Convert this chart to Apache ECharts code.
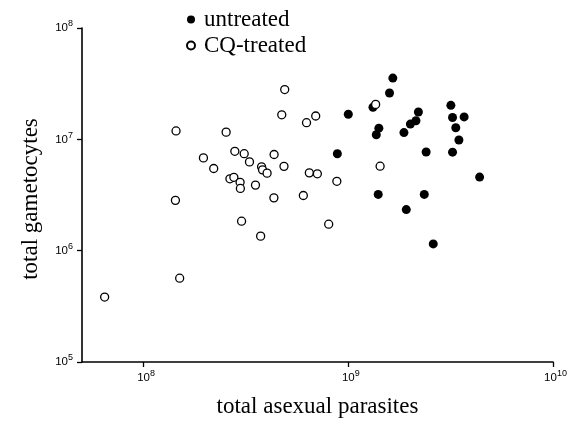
<!DOCTYPE html>
<html>
<head>
<meta charset="utf-8">
<script src="https://cdn.jsdelivr.net/npm/echarts@6/dist/echarts.min.js"></script>
<style>html,body{margin:0;padding:0;background:#fff;}#c{width:582px;height:423px;}</style>
</head>
<body>
<div id="c"></div>
<script>
// total asexual parasites (x) and total gametocytes (y)
var untreatedX = [1.65e9,1.59e9,1.32e9,1.0e9,2.2e9,2.01e9,2.14e9,1.41e9,1.37e9,1.87e9,3.17e9,3.23e9,3.68e9,3.35e9,3.47e9,8.84e8,2.4e9,3.23e9,4.38e9,1.4e9,2.35e9,1.92e9,2.6e9];
var untreatedY = [3.55e7,2.61e7,1.94e7,1.68e7,1.76e7,1.37e7,1.47e7,1.26e7,1.1e7,1.15e7,2.02e7,1.57e7,1.59e7,1.27e7,9.86e6,7.43e6,7.7e6,7.67e6,4.58e6,3.2e6,3.2e6,2.34e6,1.15e6];
var cqX = [1.44e8,2.53e8,1.96e8,2.2e8,2.79e8,3.1e8,3.29e8,3.77e8,3.81e8,4.01e8,2.64e8,2.76e8,2.96e8,2.97e8,3.52e8,1.43e8,3.01e8,3.73e8,1.5e8,6.45e7,4.89e8,4.73e8,6.93e8,6.25e8,4.34e8,4.85e8,6.45e8,7.06e8,4.33e8,6.03e8,8.02e8,8.79e8,1.43e9,1.36e9];
var cqY = [1.19e7,1.16e7,6.81e6,5.47e6,7.81e6,7.43e6,6.27e6,5.66e6,5.32e6,4.97e6,4.42e6,4.56e6,4.11e6,3.62e6,3.88e6,2.83e6,1.84e6,1.35e6,5.66e5,3.83e5,2.8e7,1.66e7,1.62e7,1.41e7,7.31e6,5.72e6,5.0e6,4.9e6,2.98e6,3.13e6,1.73e6,4.2e6,5.74e6,2.06e7];
var xTicks = [1e8, 1e9, 1e10];
var yTicks = [1e5, 1e6, 1e7, 1e8];
var xMin = 5.0e7, xMax = 1e10, yMin = 1e5, yMax = 1e8;
var seriesNames = ['untreated', 'CQ-treated'];

function pairs(xs, ys) { return xs.map(function (x, i) { return [x, ys[i]]; }); }
function powLabel(v) {
  var e = Math.log10(v), r = Math.round(e);
  if (Math.abs(e - r) > 1e-6) return '';
  return '{b|10}{e|' + r + '}';
}
var rich = {
  b: {fontFamily: 'Liberation Sans', fontSize: 11.5, lineHeight: 17, color: '#000'},
  e: {fontFamily: 'Liberation Sans', fontSize: 9, verticalAlign: 'top', color: '#000'}
};
var axisLine = {show: true, lineStyle: {color: '#000', width: 1.6}};
var tick = {show: true, length: 5, lineStyle: {color: '#000', width: 1.3}};

var chart = echarts.init(document.getElementById('c'), null, {renderer: 'canvas'});
chart.setOption({
  animation: false,
  backgroundColor: '#fff',
  grid: {left: 82, right: 29, top: 28, bottom: 59},
  legend: {
    orient: 'vertical', left: 181, top: 2, itemGap: 1,
    itemWidth: 8, itemHeight: 8,
    textStyle: {fontFamily: 'Liberation Serif', fontSize: 23, lineHeight: 25, color: '#000', padding: [0, 0, 0, 4]},
    data: seriesNames
  },
  xAxis: {
    type: 'log', logBase: 10, min: xMin, max: xMax,
    name: 'total asexual parasites', nameLocation: 'middle', nameGap: 33,
    nameTextStyle: {fontFamily: 'Liberation Serif', fontSize: 23, color: '#000'},
    axisLine: axisLine,
    axisTick: Object.assign({customValues: xTicks}, tick),
    axisLabel: {customValues: xTicks, formatter: powLabel, rich: rich, margin: 7, padding: [0, 0, 0, 5]},
    splitLine: {show: false}, minorTick: {show: false}
  },
  yAxis: {
    type: 'log', logBase: 10, min: yMin, max: yMax,
    name: 'total gametocytes', nameLocation: 'middle', nameGap: 40,
    nameTextStyle: {fontFamily: 'Liberation Serif', fontSize: 23, color: '#000', padding: [0, 8, 0, 0]},
    axisLine: axisLine,
    axisTick: Object.assign({customValues: yTicks}, tick),
    axisLabel: {customValues: yTicks, formatter: powLabel, rich: rich, margin: 9},
    splitLine: {show: false}, minorTick: {show: false}
  },
  series: [
    {
      name: seriesNames[0], type: 'scatter', symbol: 'circle', symbolSize: 9,
      itemStyle: {color: '#000', opacity: 1},
      data: pairs(untreatedX, untreatedY)
    },
    {
      name: seriesNames[1], type: 'scatter', symbol: 'circle', symbolSize: 8,
      itemStyle: {color: '#fff', borderColor: '#000', borderWidth: 1.3, opacity: 1},
      data: pairs(cqX, cqY)
    }
  ]
});
</script>
</body>
</html>
